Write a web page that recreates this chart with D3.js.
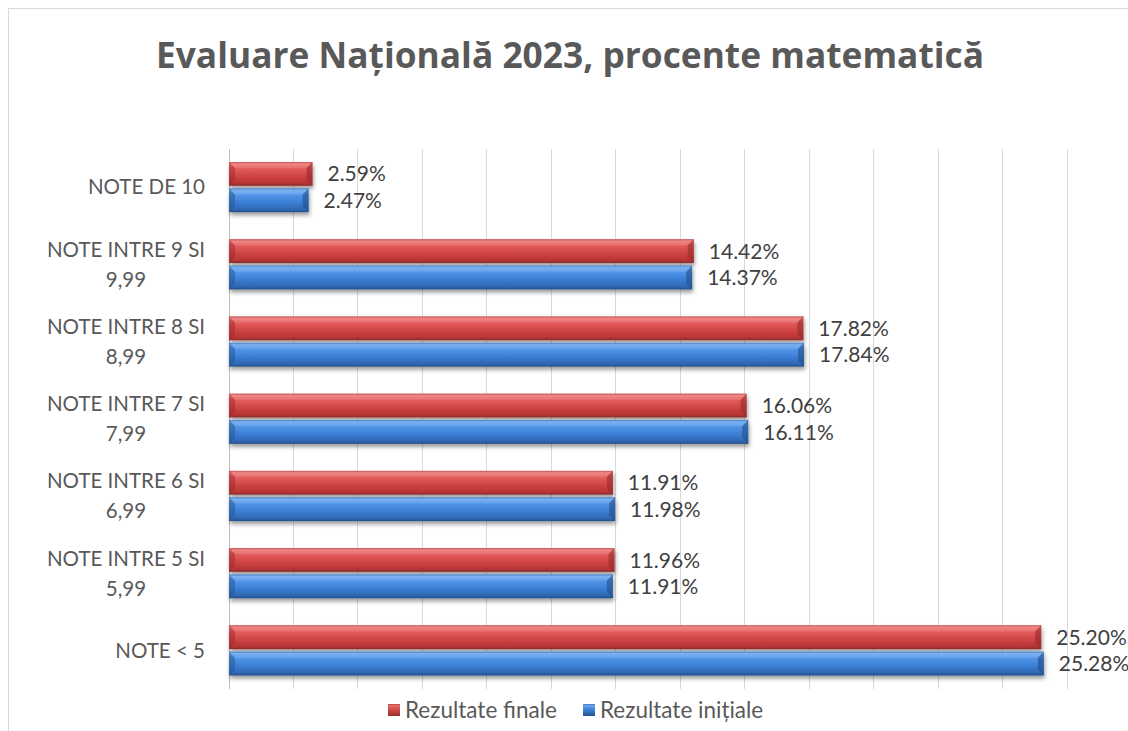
<!DOCTYPE html>
<html><head><meta charset="utf-8">
<script src="https://cdn.jsdelivr.net/npm/d3@7"></script>
<style>html,body{margin:0;padding:0;background:#fff}svg{display:block}</style>
</head><body>
<svg id="c" width="1128" height="731"></svg>
<script>
const categories = ["NOTE DE 10", "NOTE INTRE 9 SI|9,99", "NOTE INTRE 8 SI|8,99", "NOTE INTRE 7 SI|7,99", "NOTE INTRE 6 SI|6,99", "NOTE INTRE 5 SI|5,99", "NOTE < 5"];
const seriesNames = ["Rezultate finale", "Rezultate inițiale"];
const finale = [2.59, 14.42, 17.82, 16.06, 11.91, 11.96, 25.20];
const initiale = [2.47, 14.37, 17.84, 16.11, 11.98, 11.91, 25.28];
const xTicks = [0, 2, 4, 6, 8, 10, 12, 14, 16, 18, 20, 22, 24, 26];
const title = "Evaluare Națională 2023, procente matematică";

const svg = d3.select("#c");
const font = "Lato, 'Open Sans', sans-serif";
const fs = 20.5;
const W = 1128, H = 731;
const plot = {left: 229, right: 1067, top: 148.5, bottom: 689};

// frame
svg.append("rect").attr("x", 8.5).attr("y", 8.5).attr("width", W + 10).attr("height", H + 10)
  .attr("fill", "#fff").attr("stroke", "#d9d9d9").attr("stroke-width", 1);

const defs = svg.append("defs");
function grad(id, stops) {
  const g = defs.append("linearGradient").attr("id", id).attr("x1", 0).attr("y1", 0).attr("x2", 0).attr("y2", 1);
  stops.forEach(s => g.append("stop").attr("offset", s[0]).attr("stop-color", s[1]));
}
grad("gRed", [[0, "#b33a3a"], [0.08, "#f08a8a"], [0.3, "#e25a5a"], [0.6, "#cf4343"], [0.88, "#b83535"], [1, "#8e2a2a"]]);
grad("gBlue", [[0, "#2f6bb8"], [0.08, "#7fb3f2"], [0.3, "#4f93e6"], [0.6, "#3a7ed4"], [0.88, "#2f68b3"], [1, "#244f8a"]]);
grad("gRedL", [[0, "#b83a3a"], [0.1, "#e27070"], [0.5, "#d04848"], [1, "#9a2c2c"]]);
grad("gBlueL", [[0, "#2f6bb8"], [0.1, "#6fa6ea"], [0.5, "#3a7ed4"], [1, "#26538f"]]);
const f = defs.append("filter").attr("id", "sh").attr("x", "-5%").attr("y", "-30%").attr("width", "115%").attr("height", "180%");
f.append("feDropShadow").attr("dx", 1).attr("dy", 3).attr("stdDeviation", 2.2).attr("flood-color", "#000").attr("flood-opacity", 0.4);

const x = d3.scaleLinear().domain([0, 26]).range([plot.left, plot.right]);
const y = d3.scaleBand().domain(categories).range([plot.top, plot.bottom]).paddingInner(0.35).paddingOuter(0.175);
const ys = d3.scaleBand().domain(seriesNames).range([0, y.bandwidth()]).paddingInner(0.1);

// gridlines
svg.append("g").selectAll("line").data(xTicks.slice(1)).join("line")
  .attr("x1", d => x(d)).attr("x2", d => x(d)).attr("y1", plot.top).attr("y2", plot.bottom)
  .attr("stroke", "#d9d9d9").attr("stroke-width", 1).attr("shape-rendering", "crispEdges");
svg.append("line").attr("x1", x(0)).attr("x2", x(0)).attr("y1", plot.top).attr("y2", plot.bottom)
  .attr("stroke", "#bfbfbf").attr("stroke-width", 1).attr("shape-rendering", "crispEdges");

// bars
const rows = [];
categories.forEach((c, i) => {
  rows.push({cat: c, s: seriesNames[0], v: finale[i], fill: "url(#gRed)", dark: "#9a2c2c", light: "#ee8080"});
  rows.push({cat: c, s: seriesNames[1], v: initiale[i], fill: "url(#gBlue)", dark: "#25528e", light: "#78aef0"});
});
const bars = svg.append("g").selectAll("g").data(rows).join("g");
bars.append("rect")
  .attr("x", x(0)).attr("y", d => y(d.cat) + ys(d.s))
  .attr("width", d => x(d.v) - x(0)).attr("height", ys.bandwidth())
  .attr("fill", d => d.fill).attr("filter", "url(#sh)");
bars.append("path").attr("d", d => {
  const x0 = x(0), t = y(d.cat) + ys(d.s), b = t + ys.bandwidth(), e = 6;
  return `M${x0},${t} L${x0 + e},${t + e} L${x0 + e},${b - e} L${x0},${b} Z`;
}).attr("fill", d => d.dark).attr("opacity", 0.5);
bars.append("path").attr("d", d => {
  const x1 = x(d.v), t = y(d.cat) + ys(d.s), b = t + ys.bandwidth(), e = 6;
  return `M${x1},${t} L${x1},${b} L${x1 - e},${b - e} L${x1 - e},${t + e} Z`;
}).attr("fill", d => d.dark).attr("opacity", 0.65);
bars.append("path").attr("d", d => {
  const x1 = x(d.v), x0 = x(0), t = y(d.cat) + ys(d.s), e = 6;
  return `M${x0},${t} L${x1},${t} L${x1 - e},${t + e} L${x0 + e},${t + e} Z`;
}).attr("fill", d => d.light).attr("opacity", 0.35);

// value labels
svg.append("g").selectAll("text").data(rows).join("text")
  .attr("x", d => x(d.v) + 15).attr("y", d => y(d.cat) + ys(d.s) + ys.bandwidth() / 2)
  .attr("dy", "0.36em").attr("font-family", font).attr("font-size", 21).attr("fill", "#404040")
  .text(d => d.v.toFixed(2) + "%");

// category labels
const lab = svg.append("g");
categories.forEach(c => {
  const parts = c.split("|");
  const cy = y(c) + y.bandwidth() / 2;
  const y1 = parts[1] ? cy - 15 : cy;
  const t1 = lab.append("text").attr("x", 205).attr("y", y1).attr("dy", "0.36em")
    .attr("text-anchor", "end").attr("font-family", font).attr("font-size", fs).attr("fill", "#595959").text(parts[0]);
  if (parts[1]) {
    const w = t1.node().getComputedTextLength();
    lab.append("text").attr("x", 205 - w / 2).attr("y", cy + 15).attr("dy", "0.36em")
      .attr("text-anchor", "middle").attr("font-family", font).attr("font-size", fs).attr("fill", "#595959").text(parts[1]);
  }
});

// title
svg.append("text").attr("x", 570).attr("y", 68).attr("text-anchor", "middle")
  .attr("font-family", "'Open Sans', sans-serif").attr("font-weight", "bold").attr("font-size", 36).attr("fill", "#595959")
  .attr("textLength", 828).attr("lengthAdjust", "spacingAndGlyphs").text(title);

// legend
const legend = [{name: seriesNames[0], fill: "url(#gRedL)", x: 388}, {name: seriesNames[1], fill: "url(#gBlueL)", x: 583}];
const lg = svg.append("g").selectAll("g").data(legend).join("g").attr("transform", d => `translate(${d.x},704)`);
lg.append("rect").attr("width", 12).attr("height", 12).attr("fill", d => d.fill);
lg.append("text").attr("x", 17).attr("y", 6).attr("dy", "0.36em").attr("font-family", font)
  .attr("font-size", 22.5).attr("fill", "#595959").text(d => d.name);
</script>
</body></html>
